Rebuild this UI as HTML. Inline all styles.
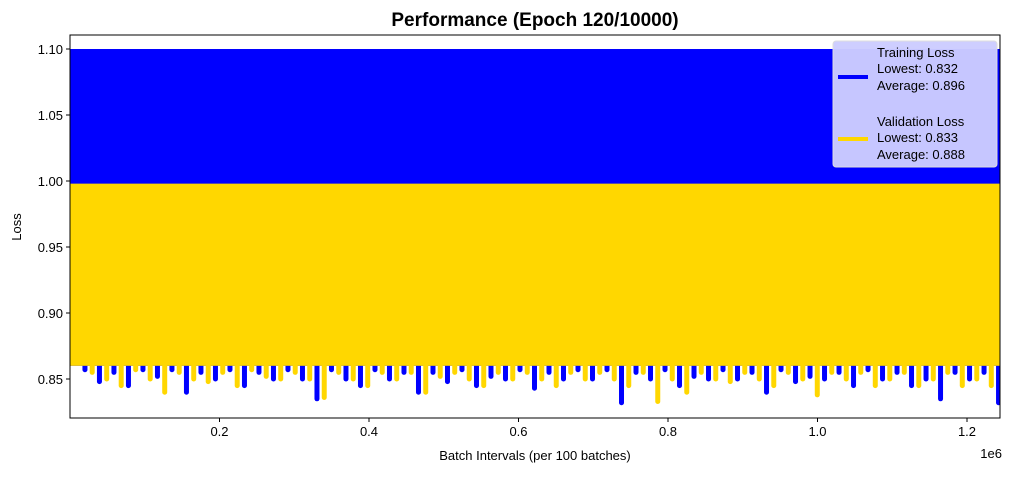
<!DOCTYPE html>
<html><head><meta charset="utf-8"><style>
body{margin:0;background:#fff;}
svg text{font-family:"Liberation Sans","DejaVu Sans",sans-serif;}
</style></head><body>
<svg id="chart" width="1010" height="472" xmlns="http://www.w3.org/2000/svg">
<rect width="1010" height="472" fill="#fff"/>
<text x="535" y="26" text-anchor="middle" font-size="19" font-weight="bold">Performance (Epoch 120/10000)</text>
<g id="plot"></g>
<rect x="70" y="35" width="930" height="383" fill="none" stroke="#000" stroke-width="1"/>
<g id="axes"></g>
<text x="535" y="460" text-anchor="middle" font-size="13">Batch Intervals (per 100 batches)</text>
<text x="1002" y="458" text-anchor="end" font-size="13">1e6</text>
<text transform="translate(21,227) rotate(-90)" text-anchor="middle" font-size="13">Loss</text>
<g>
<rect x="833" y="41" width="164" height="126" rx="3" fill="#ccccff" fill-opacity="0.97" stroke="#ddd"/>
<line x1="838" y1="77" x2="868" y2="77" stroke="#0000ff" stroke-width="4"/>
<text font-size="13"><tspan x="877" y="57">Training Loss</tspan><tspan x="877" y="73">Lowest: 0.832</tspan><tspan x="877" y="90">Average: 0.896</tspan></text>
<line x1="838" y1="139" x2="868" y2="139" stroke="#ffd700" stroke-width="4"/>
<text font-size="13"><tspan x="877" y="126">Validation Loss</tspan><tspan x="877" y="142">Lowest: 0.833</tspan><tspan x="877" y="159">Average: 0.888</tspan></text>
</g>
</svg>
<script>
const xTicks=[0.2,0.4,0.6,0.8,1.0,1.2];
const yTicks=[0.85,0.90,0.95,1.00,1.05,1.10];
const trainTop=1.10, valTop=0.998, base=0.86;
const trainSpikes=[0.857,0.848,0.855,0.845,0.857,0.852,0.857,0.840,0.855,0.850,0.857,0.845,0.855,0.850,0.857,0.850,0.835,0.857,0.850,0.845,0.857,0.850,0.855,0.840,0.855,0.848,0.857,0.845,0.852,0.850,0.857,0.843,0.855,0.850,0.857,0.850,0.857,0.832,0.855,0.850,0.857,0.845,0.852,0.850,0.857,0.850,0.855,0.840,0.857,0.848,0.852,0.850,0.855,0.845,0.857,0.850,0.855,0.845,0.850,0.835,0.855,0.850,0.855,0.832];
const valSpikes=[0.855,0.850,0.845,0.857,0.850,0.840,0.855,0.850,0.848,0.855,0.845,0.857,0.852,0.850,0.855,0.850,0.836,0.855,0.850,0.845,0.855,0.850,0.855,0.840,0.852,0.855,0.850,0.845,0.855,0.850,0.855,0.850,0.845,0.855,0.850,0.855,0.850,0.845,0.855,0.833,0.850,0.840,0.855,0.850,0.848,0.855,0.850,0.845,0.855,0.850,0.838,0.855,0.850,0.855,0.845,0.850,0.855,0.845,0.850,0.855,0.845,0.850,0.845];
const trainStart=20000, valStart=29700, step=19400;
const X=v=>70+v/1e6*747.5;
const Y=v=>379-(v-0.85)*1320;
const NS="http://www.w3.org/2000/svg";
const plot=document.getElementById('plot'), axes=document.getElementById('axes');
function mk(tag,at,parent){const e=document.createElementNS(NS,tag);for(const k in at)e.setAttribute(k,at[k]);parent.appendChild(e);return e;}
const clip=mk('clipPath',{id:'cp'},plot);mk('rect',{x:70,y:35,width:930,height:383},clip);
const g=mk('g',{'clip-path':'url(#cp)'},plot);
function series(top,spikes,start,color,name){
  const r=mk('rect',{x:70,y:Y(top),width:930,height:Y(base)-Y(top),fill:color},g);
  
  
  spikes.forEach((v,i)=>{const x=X(start+i*step);
    const l=mk('line',{x1:x,x2:x,y1:Y(base)-2,y2:Y(v),stroke:color,'stroke-width':5,'stroke-linecap':'round'},g);
    
    });
}
series(trainTop,trainSpikes,trainStart,'#0000ff','training-loss');
series(valTop,valSpikes,valStart,'#ffd700','validation-loss');
xTicks.forEach(t=>{const x=X(t*1e6);mk('line',{x1:x,x2:x,y1:418,y2:422,stroke:'#000'},axes);
  const tx=mk('text',{x:x,y:436,'text-anchor':'middle','font-size':13},axes);tx.textContent=t.toFixed(1);
  
  });
yTicks.forEach(t=>{const y=Y(t);mk('line',{x1:66,x2:70,y1:y,y2:y,stroke:'#000'},axes);
  const tx=mk('text',{x:63,y:y+5,'text-anchor':'end','font-size':13},axes);tx.textContent=t.toFixed(2);
  
  });
</script>
</body></html>
